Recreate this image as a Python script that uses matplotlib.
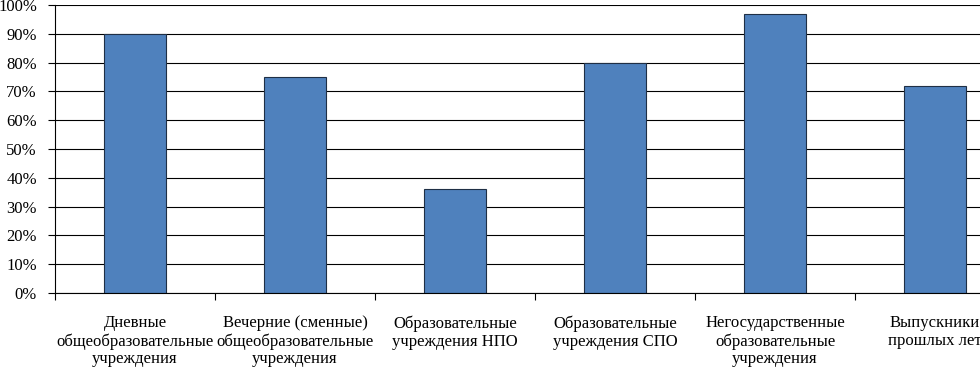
import matplotlib
matplotlib.use("Agg")
import matplotlib.pyplot as plt
import numpy as np

plt.rcParams['font.family'] = ['Liberation Serif', 'DejaVu Serif']

# data
categories = ["Дневные\nобщеобразовательные\nучреждения",
              "Вечерние (сменные)\nобщеобразовательные\nучреждения",
              "Образовательные\nучреждения НПО",
              "Образовательные\nучреждения СПО",
              "Негосударственные\nобразовательные\nучреждения",
              "Выпускники\nпрошлых лет"]
values = [90, 75, 36, 80, 97, 72]
yticks = list(range(0, 101, 10))

fig = plt.figure(figsize=(9.8, 3.68), dpi=100)
# axes runs past the right edge of the picture like in the source
ax = fig.add_axes([55 / 980, 1 - 293 / 368, 960 / 980, 288 / 368])

x = np.arange(len(categories))
ax.bar(x, values, width=0.39, color='#4F81BD', edgecolor='#1F2F45',
       linewidth=0.8, zorder=3)

ax.set_xlim(-0.5, len(categories) - 0.5)
ax.set_ylim(0, 100)
ax.set_yticks(yticks)
ax.set_yticklabels(['%d%%' % v for v in yticks], fontsize=12)
ax.yaxis.grid(True, color='black', linewidth=0.8, zorder=0)

ax.set_xticks(x)
ax.set_xticklabels(categories, fontsize=12, linespacing=1.15)
ax.set_xticks(np.arange(-0.5, len(categories)), minor=True)
ax.tick_params(axis='x', which='major', length=0, pad=16)
ax.tick_params(axis='x', which='minor', length=5, width=0.8, direction='out')
ax.tick_params(axis='y', length=5, width=0.8, direction='out', pad=8)

for s in ['top', 'right']:
    ax.spines[s].set_visible(False)
for s in ['left', 'bottom']:
    ax.spines[s].set_linewidth(0.8)
    ax.spines[s].set_zorder(4)

fig.savefig('out.png', dpi=100)
